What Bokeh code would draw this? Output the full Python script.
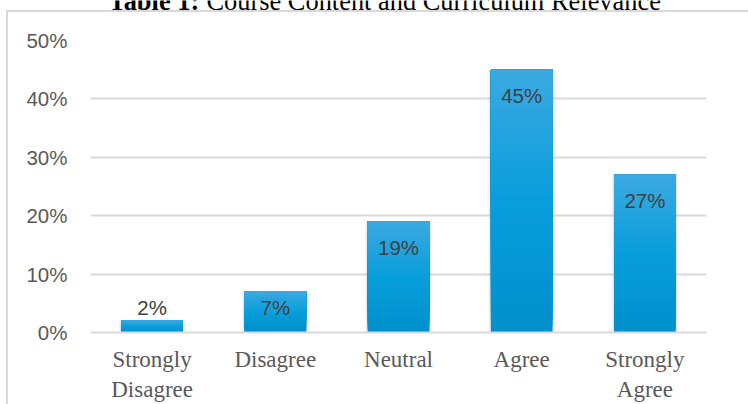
from bokeh.plotting import figure
from bokeh.layouts import column
from bokeh.models import FactorRange, Range1d, FixedTicker, NumeralTickFormatter, ColumnDataSource
from bokeh.core.properties import value
from bokeh.embed import file_html
from bokeh.resources import INLINE

# Survey responses (share of respondents)
categories = ["Strongly\nDisagree", "Disagree", "Neutral", "Agree", "Strongly\nAgree"]
shares = [0.02, 0.07, 0.19, 0.45, 0.27]
value_labels = ["2%", "7%", "19%", "45%", "27%"]
y_ticks = [0.0, 0.1, 0.2, 0.3, 0.4, 0.5]
caption_bold = "Table 1:"
caption_text = "Course Content and Curriculum Relevance"

FRAME_GREY = "#d9d9d9"
LEFT, RIGHT = 90, 42  # space beside the plotting area

# caption strip; its data x runs in page pixels across the plotting area
head = figure(width=748, height=12, x_range=Range1d(LEFT, 748 - RIGHT), y_range=Range1d(0, 12),
              output_backend="svg", toolbar_location=None,
              x_axis_location=None, y_axis_location=None,
              min_border_left=LEFT, min_border_right=RIGHT,
              min_border_top=0, min_border_bottom=0)
head.grid.visible = False
head.outline_line_color = None
head.background_fill_color = None
head.border_fill_color = None
head.text(x=[108], y=[12], text=[caption_bold], text_font=value("Liberation Serif"),
          text_font_style="bold", text_font_size="26.4px", text_color="black",
          text_baseline="alphabetic")
head.text(x=[206], y=[12], text=[caption_text], text_font=value("Liberation Serif"),
          text_font_size="26.4px", text_color="black", text_baseline="alphabetic")

# the bar chart itself
chart = figure(width=748, height=392, x_range=FactorRange(*categories),
               y_range=Range1d(0, 0.5), output_backend="svg", toolbar_location=None,
               min_border_left=LEFT, min_border_right=RIGHT, min_border_top=28,
               min_border_bottom=72)
chart.outline_line_color = None
chart.background_fill_color = "white"
chart.border_fill_color = None
chart.x_range.range_padding = 0.0

chart.yaxis.ticker = FixedTicker(ticks=y_ticks)
chart.yaxis.formatter = NumeralTickFormatter(format="0%")
chart.yaxis.axis_line_color = None
chart.yaxis.major_tick_line_color = None
chart.yaxis.minor_tick_line_color = None
chart.yaxis.major_label_text_font = "Liberation Sans"
chart.yaxis.major_label_text_font_size = "20.5px"
chart.yaxis.major_label_text_color = "#595959"
chart.yaxis.major_label_standoff = 17

chart.xaxis.axis_line_color = FRAME_GREY
chart.xaxis.axis_line_width = 2
chart.xaxis.major_tick_line_color = None
chart.xaxis.minor_tick_line_color = None
chart.xaxis.major_label_text_font = "Liberation Serif"
chart.xaxis.major_label_text_font_size = "23px"
chart.xaxis.major_label_text_color = "#595959"
chart.xaxis.major_label_standoff = 8

chart.xgrid.grid_line_color = None
chart.ygrid.grid_line_color = FRAME_GREY
chart.ygrid.grid_line_width = 2
chart.ygrid.ticker = FixedTicker(ticks=y_ticks)

# soft shadow around each bar
chart.vbar(x=categories, top=shares, bottom=0, width=0.54, fill_color="#7f7f7f",
           fill_alpha=0.08, line_color=None)
chart.vbar(x=categories, top=shares, bottom=0, width=0.52, fill_color="#7f7f7f",
           fill_alpha=0.14, line_color=None)

# bars with a vertical gradient: lighter at the top, darker at the base.
# Each layer runs up to the bar top, so later layers cover earlier ones without seams.
top_rgb = (60, 169, 225)
mid_rgb = (8, 158, 219)
bot_rgb = (0, 144, 204)


def blend(a, b, t):
    return "#%02x%02x%02x" % tuple(int(round(a[i] + (b[i] - a[i]) * t)) for i in range(3))


n_steps = 40
xs, bottoms, tops, colors = [], [], [], []
for cat, v in zip(categories, shares):
    for k in range(n_steps):
        fm = (k + 0.5) / n_steps  # 0 at base, 1 at top
        if fm >= 0.5:
            c = blend(mid_rgb, top_rgb, (fm - 0.5) / 0.5)
        else:
            c = blend(bot_rgb, mid_rgb, fm / 0.5)
        xs.append(cat)
        bottoms.append(v * k / n_steps)
        tops.append(v)
        colors.append(c)
chart.vbar(x=xs, bottom=bottoms, top=tops, width=0.5, fill_color=colors, line_color=None)

# value labels near the top of each bar, kept clear of the baseline
label_y = [max(v - 0.044, 0.043) for v in shares]
src = ColumnDataSource(dict(x=categories, y=label_y, t=value_labels))
chart.text(x="x", y="y", text="t", source=src, text_align="center",
           text_baseline="middle", text_font=value("Liberation Sans"),
           text_font_size="20.5px", text_color="#404040")

# light grey frame (top and left edges) drawn behind both transparent canvases
frame_css = (
    "linear-gradient(#d9d9d9, #d9d9d9) 6px 10px / 2px 420px no-repeat, "
    "linear-gradient(#d9d9d9, #d9d9d9) 6px 10px / 760px 2px no-repeat, white"
)
p = column(head, chart, spacing=0, styles={"background": frame_css})

open("out.html", "w").write(file_html(p, INLINE))
